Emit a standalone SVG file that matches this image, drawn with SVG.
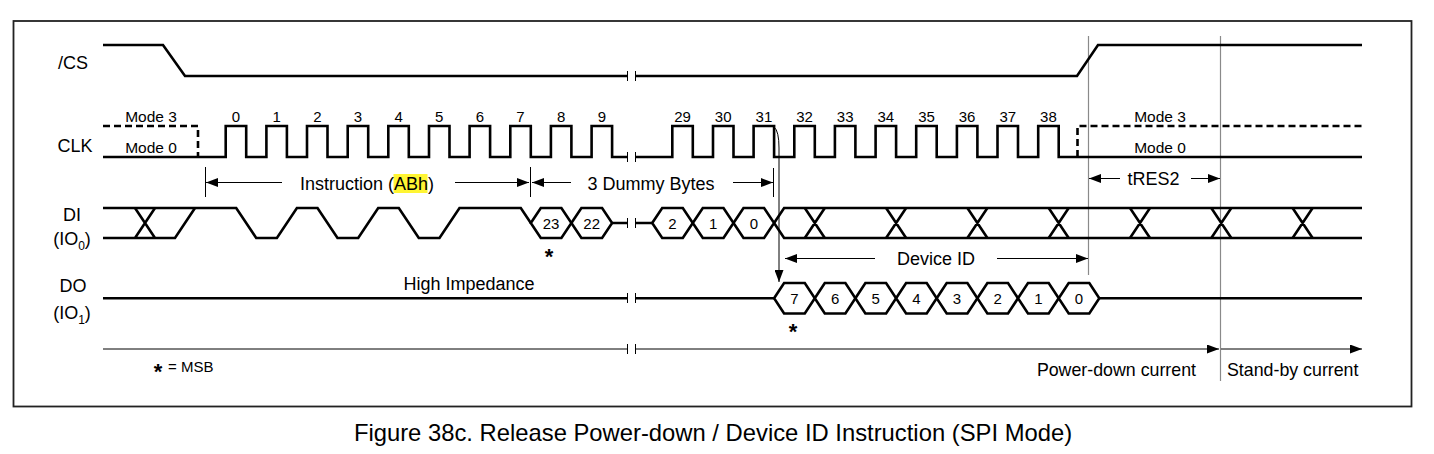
<svg xmlns="http://www.w3.org/2000/svg" width="1434" height="454" viewBox="0 0 1434 454">
<style>
.t{font-family:"Liberation Sans",Arial,Helvetica,sans-serif;fill:#000}
.lbl{font-size:18px;text-anchor:middle}
.num{font-size:15px;text-anchor:middle}
.hx{font-size:15px;text-anchor:middle}
.mode{font-size:15.5px;text-anchor:middle}
.dim{font-size:18px}
.w{fill:none;stroke:#000;stroke-width:2.6;stroke-linejoin:miter}
.hexs{fill:#fff;stroke:#000;stroke-width:2.6;stroke-linejoin:miter}
.dash{fill:none;stroke:#000;stroke-width:2.6;stroke-dasharray:7 4}
.thin{fill:none;stroke:#000;stroke-width:1}
.gray{fill:none;stroke:#8a8a8a;stroke-width:1.2}
.star{font-size:22px;font-weight:bold;text-anchor:middle}
</style>
<defs>
<marker id="ah" viewBox="0 0 12 9" refX="12" refY="4.5" markerWidth="12" markerHeight="9" markerUnits="userSpaceOnUse" orient="auto">
<path d="M0,0 L12,4.5 L0,9 z" fill="#000"/>
</marker>
</defs>
<rect x="0" y="0" width="1434" height="454" fill="#fff"/>
<rect id="frame" x="13.5" y="21" width="1398" height="385.5" fill="none" stroke="#222" stroke-width="1.8"/>

<g id="guides">
<path class="gray" d="M1088.5,36 L1088.5,275 M1220.5,36 L1220.5,381"/>
</g>

<g id="labels">
<text class="t lbl" x="73" y="68.5">/CS</text>
<text class="t lbl" x="75" y="151.5">CLK</text>
<text class="t lbl" x="72" y="220.5">DI</text>
<text class="t lbl" x="72" y="244.5">(IO<tspan font-size="12" dy="5">0</tspan><tspan dy="-5">)</tspan></text>
<text class="t lbl" x="73" y="291.5">DO</text>
<text class="t lbl" x="72" y="318.5">(IO<tspan font-size="12" dy="5">1</tspan><tspan dy="-5">)</tspan></text>
</g>

<g id="cs">
<path class="w" d="M103,45 L163,45 L185,76 L627,76 M636,76 L1077,76 L1098,45 L1362,45"/>
</g>

<g id="clk">
<path class="dash" d="M103,126 L198,126 L198,157 M1077.5,157 L1077.5,126 L1362,126"/>
<path class="w" d="M103,157 L225.7,157 L225.7,126 L246.2,126 L246.2,157 L266.4,157 L266.4,126 L286.9,126 L286.9,157 L307,157 L307,126 L327.5,126 L327.5,157 L347.7,157 L347.7,126 L368.2,126 L368.2,157 L388.3,157 L388.3,126 L408.8,126 L408.8,157 L429,157 L429,126 L449.5,126 L449.5,157 L469.6,157 L469.6,126 L490.1,126 L490.1,157 L510.3,157 L510.3,126 L530.8,126 L530.8,157 L550.9,157 L550.9,126 L571.4,126 L571.4,157 L591.6,157 L591.6,126 L612.1,126 L612.1,157 L627,157 M636,157 L672.3,157 L672.3,126 L692.8,126 L692.8,157 L713,157 L713,126 L733.5,126 L733.5,157 L753.6,157 L753.6,126 L774.1,126 L774.1,157 L794.3,157 L794.3,126 L814.8,126 L814.8,157 L834.9,157 L834.9,126 L855.4,126 L855.4,157 L875.6,157 L875.6,126 L896.1,126 L896.1,157 L916.2,157 L916.2,126 L936.7,126 L936.7,157 L956.9,157 L956.9,126 L977.4,126 L977.4,157 L997.5,157 L997.5,126 L1018,126 L1018,157 L1038.2,157 L1038.2,126 L1058.7,126 L1058.7,157 L1362,157"/>
<text class="t mode" x="151" y="122">Mode 3</text>
<text class="t mode" x="151" y="152.5">Mode 0</text>
<text class="t mode" x="1160" y="122">Mode 3</text>
<text class="t mode" x="1160" y="152.5">Mode 0</text>
<g class="t num">
<text x="236" y="122">0</text><text x="276.6" y="122">1</text><text x="317.3" y="122">2</text><text x="357.9" y="122">3</text><text x="398.6" y="122">4</text><text x="439.2" y="122">5</text><text x="479.9" y="122">6</text><text x="520.5" y="122">7</text><text x="561.2" y="122">8</text><text x="601.8" y="122">9</text>
<text x="682.6" y="122">29</text><text x="723.2" y="122">30</text><text x="763.9" y="122">31</text><text x="804.5" y="122">32</text><text x="845.2" y="122">33</text><text x="885.8" y="122">34</text><text x="926.5" y="122">35</text><text x="967.1" y="122">36</text><text x="1007.8" y="122">37</text><text x="1048.4" y="122">38</text>
</g>
</g>

<g id="di">
<path class="w" d="M103,238 L175,238 L195,208 M135,208 L155,238 M135,238 L155,208"/>
<path class="w" d="M103,208 L236.2,208 L256.2,238 L276.9,238 L296.9,208 L317.5,208 L337.5,238 L358.2,238 L378.2,208 L398.8,208 L418.8,238 L439.5,238 L459.5,208 L520.8,208 L530.8,223"/>
<path class="hexs" d="M530.8,223 L540.8,208 L561.4,208 L571.4,223 L561.4,238 L540.8,238 Z"/>
<path class="hexs" d="M571.4,223 L581.4,208 L602.1,208 L612.1,223 L602.1,238 L581.4,238 Z"/>
<path class="w" d="M612.1,223 L627,223 M636,223 L652.2,223"/>
<path class="hexs" d="M652.2,223 L662.2,208 L682.8,208 L692.8,223 L682.8,238 L662.2,238 Z"/>
<path class="hexs" d="M692.8,223 L702.8,208 L723.5,208 L733.5,223 L723.5,238 L702.8,238 Z"/>
<path class="hexs" d="M733.5,223 L743.5,208 L764.1,208 L774.1,223 L764.1,238 L743.5,238 Z"/>
<path class="w" d="M774.1,223 L784.1,208 L1362,208 M774.1,223 L784.1,238 L1362,238"/>
<path class="w" d="M804.8,208 L824.8,238 M804.8,238 L824.8,208 M886.1,208 L906.1,238 M886.1,238 L906.1,208 M967.4,208 L987.4,238 M967.4,238 L987.4,208 M1048.7,208 L1068.7,238 M1048.7,238 L1068.7,208 M1130,208 L1150,238 M1130,238 L1150,208 M1211.3,208 L1231.3,238 M1211.3,238 L1231.3,208 M1292.6,208 L1312.6,238 M1292.6,238 L1312.6,208"/>
<g class="t hx">
<text x="551.1" y="228.5">23</text><text x="591.7" y="228.5">22</text><text x="672.5" y="228.5">2</text><text x="713.1" y="228.5">1</text><text x="753.8" y="228.5">0</text>
</g>
<text class="t star" x="549" y="264">*</text>
</g>

<g id="do">
<path class="w" d="M103,298.3 L627,298.3 M636,298.3 L774.1,298.3 M1099.3,298.3 L1362,298.3"/>
<path class="hexs" d="M774.1,298.3 L784.1,283 L804.8,283 L814.8,298.3 L804.8,313.5 L784.1,313.5 Z"/>
<path class="hexs" d="M814.8,298.3 L824.8,283 L845.4,283 L855.4,298.3 L845.4,313.5 L824.8,313.5 Z"/>
<path class="hexs" d="M855.4,298.3 L865.4,283 L886.1,283 L896.1,298.3 L886.1,313.5 L865.4,313.5 Z"/>
<path class="hexs" d="M896.1,298.3 L906.1,283 L926.7,283 L936.7,298.3 L926.7,313.5 L906.1,313.5 Z"/>
<path class="hexs" d="M936.7,298.3 L946.7,283 L967.4,283 L977.4,298.3 L967.4,313.5 L946.7,313.5 Z"/>
<path class="hexs" d="M977.4,298.3 L987.4,283 L1008,283 L1018,298.3 L1008,313.5 L987.4,313.5 Z"/>
<path class="hexs" d="M1018,298.3 L1028,283 L1048.7,283 L1058.7,298.3 L1048.7,313.5 L1028,313.5 Z"/>
<path class="hexs" d="M1058.7,298.3 L1068.7,283 L1089.3,283 L1099.3,298.3 L1089.3,313.5 L1068.7,313.5 Z"/>
<g class="t hx">
<text x="794.4" y="304">7</text><text x="835.1" y="304">6</text><text x="875.7" y="304">5</text><text x="916.4" y="304">4</text><text x="957" y="304">3</text><text x="997.7" y="304">2</text><text x="1038.3" y="304">1</text><text x="1079" y="304">0</text>
</g>
<text class="t star" x="793" y="339">*</text>
<text class="t dim" x="469" y="290" text-anchor="middle">High Impedance</text>
</g>

<g id="breaks">
<path class="thin" d="M627.5,71 L627.5,81 M635.5,71 L635.5,81 M627.5,152 L627.5,162 M635.5,152 L635.5,162 M627.5,218 L627.5,228 M635.5,218 L635.5,228 M627.5,293 L627.5,303 M635.5,293 L635.5,303 M627.5,344 L627.5,354 M635.5,344 L635.5,354"/>
</g>

<g id="connectors">
<path class="thin" d="M205.5,167 L205.5,197 M530.5,167 L530.5,197 M773.5,168 L773.5,197"/>
<path class="thin" d="M282,182.5 L206,182.5" marker-end="url(#ah)"/>
<path class="thin" d="M455,182.5 L529,182.5" marker-end="url(#ah)"/>
<path class="thin" d="M571,182.5 L532,182.5" marker-end="url(#ah)"/>
<path class="thin" d="M733,182.5 L773,182.5" marker-end="url(#ah)"/>
<path class="thin" d="M1120,178.5 L1089,178.5" marker-end="url(#ah)"/>
<path class="thin" d="M1191,178.5 L1220,178.5" marker-end="url(#ah)"/>
<path class="thin" d="M875,258.5 L785,258.5" marker-end="url(#ah)"/>
<path class="thin" d="M997,258.5 L1088,258.5" marker-end="url(#ah)"/>
<path class="thin" d="M774.1,127 Q779,131 779,148 L779,282" marker-end="url(#ah)"/>
<path class="thin" d="M103,349 L627,349 M636,349 L1219,349" marker-end="url(#ah)"/>
<path class="thin" d="M1221,349 L1362,349" marker-end="url(#ah)"/>
</g>

<g id="annotations">
<rect x="393.5" y="174" width="34" height="19" fill="#fff533"/>
<text class="t dim" x="300" y="189.5">Instruction (<tspan>ABh</tspan>)</text>
<text class="t dim" x="651" y="189.5" text-anchor="middle">3 Dummy Bytes</text>
<text class="t dim" x="1153.5" y="184.5" text-anchor="middle">tRES2</text>
<text class="t dim" x="936" y="264.5" text-anchor="middle">Device ID</text>
<text class="t" x="1196" y="376" font-size="17.8" text-anchor="end">Power-down current</text>
<text class="t" x="1227" y="376" font-size="17.8">Stand-by current</text>
<text class="t star" x="158" y="379">*</text>
<text class="t" x="168" y="372" font-size="15">= MSB</text>
</g>

<text id="caption" class="t" x="713" y="441" font-size="23.8" text-anchor="middle">Figure 38c. Release Power-down / Device ID Instruction (SPI Mode)</text>
</svg>
